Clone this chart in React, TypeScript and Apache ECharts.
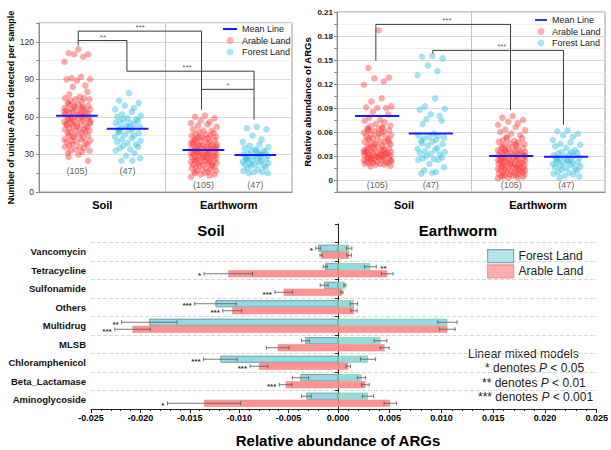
import React, { useEffect, useRef } from 'react';
import * as echarts from 'echarts';

const FONT = 'Arial, "Liberation Sans", Helvetica, sans-serif';

// ---------- top panels ----------
const groupCategories = ['Soil', 'Earthworm'];
const groupCenters = [1.1, 1.9, 3.1, 3.92]; // soil-arable, soil-forest, earthworm-arable, earthworm-forest
const jitterPattern = [0.1, -0.6, 0.8, -0.2, 0.45, -0.9, 0.3, -0.4, 0.95, -0.75, 0.0, 0.6, -0.3, 0.75, -0.55, 0.2, -0.85, 0.5, -0.1, 0.9, -0.45, 0.35, -0.65];
const jitterSpread = 0.22;

const countSoilArable = [114, 111, 110, 110, 108, 104, 92, 91, 90, 90, 89, 85, 84, 80, 78, 76, 75, 75, 74, 74, 73, 72, 71, 70, 70,
  69, 69, 68, 67, 67, 66, 66, 65, 65, 64, 64, 63, 63, 62, 62, 61, 61, 60, 60, 60,
  59, 59, 58, 58, 57, 57, 56, 56, 55, 55, 54, 54, 53, 53, 52, 51, 51, 50, 50,
  49, 49, 48, 47, 47, 46, 45, 45, 44, 43, 42, 42, 41, 41, 40, 40,
  39, 38, 38, 37, 36, 36, 35, 34, 33, 33, 32, 31, 30, 28, 25,
  68, 66, 64, 62, 58, 56, 54, 52, 48, 44];
const countSoilForest = [79, 73, 71, 69, 67, 66, 64, 62, 61, 60, 59, 58, 58, 57, 56, 55, 55, 54, 53, 52, 51, 50, 50, 49, 48,
  47, 46, 45, 44, 43, 42, 41, 40, 39, 38, 37, 36, 35, 34, 33, 31, 29, 27, 25, 25, 48, 52];
const countEarthArable = [61, 60, 59, 57, 56, 55, 54, 53, 52, 50, 49, 49, 48, 47, 46, 46, 45, 45, 44, 44,
  43, 43, 42, 42, 41, 41, 40, 40, 39, 39, 38, 38, 38, 37, 37, 37, 36, 36, 36, 35,
  35, 35, 34, 34, 34, 33, 33, 33, 32, 32, 32, 31, 31, 31, 30, 30, 30, 29, 29, 29,
  28, 28, 28, 27, 27, 27, 26, 26, 26, 25, 25, 25, 24, 24, 24, 23, 23, 23, 22, 22,
  21, 21, 20, 20, 19, 19, 18, 18, 17, 17, 16, 16, 15, 15, 14, 14, 13, 12, 30, 33, 36, 40, 28, 22, 44];
const countEarthForest = [52, 51, 50, 45, 42, 40, 38, 37, 36, 35, 34, 33, 33, 32, 31, 31, 30, 30, 29, 29,
  28, 28, 27, 27, 26, 26, 25, 25, 24, 24, 23, 23, 22, 22, 21, 21, 20, 19, 18, 17, 16, 16, 15, 15, 30, 27, 33];
const countMeans = [61, 50.5, 33.5, 29.5];
const countLabelY = [17, 17, 5.8, 5.8];

const abundSoilArable = [0.187, 0.140, 0.128, 0.127, 0.123, 0.119, 0.102, 0.098, 0.092, 0.091,
  0.090, 0.090, 0.085, 0.082, 0.078, 0.075, 0.074, 0.072, 0.070, 0.068,
  0.067, 0.066, 0.065, 0.064, 0.063, 0.062, 0.061, 0.060, 0.059, 0.058,
  0.057, 0.056, 0.055, 0.054, 0.053, 0.052, 0.051, 0.050, 0.049, 0.048,
  0.047, 0.046, 0.045, 0.044, 0.043, 0.042, 0.041, 0.040, 0.040, 0.039,
  0.038, 0.037, 0.036, 0.036, 0.035, 0.035, 0.034, 0.034, 0.033, 0.033,
  0.032, 0.032, 0.031, 0.031, 0.030, 0.030, 0.029, 0.029, 0.028, 0.028,
  0.027, 0.027, 0.026, 0.026, 0.025, 0.025, 0.024, 0.024, 0.023, 0.023,
  0.022, 0.022, 0.021, 0.021, 0.020, 0.020, 0.019, 0.019, 0.018, 0.017,
  0.065, 0.062, 0.058, 0.052, 0.048, 0.045, 0.038, 0.034, 0.031, 0.027,
  0.024, 0.036, 0.029, 0.033, 0.041];
const abundSoilForest = [0.155, 0.154, 0.152, 0.143, 0.136, 0.131, 0.102, 0.092, 0.089, 0.088,
  0.082, 0.080, 0.076, 0.074, 0.070, 0.058, 0.056, 0.055, 0.054, 0.053,
  0.052, 0.050, 0.049, 0.048, 0.046, 0.045, 0.043, 0.040, 0.039, 0.038,
  0.036, 0.035, 0.034, 0.033, 0.032, 0.030, 0.028, 0.027, 0.026, 0.025,
  0.025, 0.020, 0.016, 0.012, 0.010, 0.008, 0.009];
const abundEarthArable = [0.080, 0.078, 0.075, 0.073, 0.071, 0.069, 0.066, 0.063, 0.062, 0.060,
  0.058, 0.056, 0.054, 0.052, 0.050, 0.049, 0.048, 0.047, 0.046, 0.045,
  0.044, 0.043, 0.042, 0.041, 0.040, 0.040, 0.039, 0.038, 0.037, 0.036,
  0.036, 0.035, 0.035, 0.034, 0.034, 0.033, 0.033, 0.032, 0.032, 0.031,
  0.031, 0.030, 0.030, 0.029, 0.029, 0.028, 0.028, 0.027, 0.027, 0.026,
  0.026, 0.025, 0.025, 0.024, 0.024, 0.023, 0.023, 0.022, 0.022, 0.021,
  0.021, 0.020, 0.020, 0.019, 0.019, 0.018, 0.018, 0.017, 0.017, 0.016,
  0.016, 0.015, 0.015, 0.014, 0.014, 0.013, 0.013, 0.012, 0.012, 0.011,
  0.011, 0.010, 0.010, 0.009, 0.009, 0.008, 0.008, 0.007, 0.007, 0.006,
  0.006, 0.005, 0.005, 0.004, 0.004, 0.003, 0.003, 0.002, 0.045, 0.038,
  0.030, 0.025, 0.020, 0.015, 0.052];
const abundEarthForest = [0.062, 0.061, 0.058, 0.056, 0.054, 0.050, 0.047, 0.045, 0.044, 0.042,
  0.040, 0.037, 0.035, 0.034, 0.033, 0.032, 0.031, 0.030, 0.029, 0.028,
  0.027, 0.026, 0.025, 0.024, 0.023, 0.022, 0.022, 0.021, 0.020, 0.019,
  0.018, 0.017, 0.016, 0.015, 0.014, 0.013, 0.012, 0.010, 0.009, 0.008,
  0.007, 0.005, 0.004, 0.003, 0.035, 0.028, 0.024];
const abundMeans = [0.080, 0.058, 0.030, 0.029];
const abundLabelY = [-0.0067, -0.0067, -0.0067, -0.0067];

const sampleSizes = ['(105)', '(47)', '(105)', '(47)'];

const countBrackets = [
  [[1.12, 117], [1.12, 128.5], [3.07, 128.5], [3.07, 82]],
  [[1.12, 121], [1.89, 121], [1.89, 96.5]],
  [[1.89, 96.5], [3.9, 96.5], [3.9, 82]],
  [[3.07, 65.8], [3.07, 82], [3.9, 82], [3.9, 57.8]],
];
const countStars = [[1.51, 121, '**'], [2.1, 128.5, '***'], [2.84, 96.5, '***'], [3.49, 82, '*']];
const abundBrackets = [
  [[1.08, 0.149], [1.08, 0.1945], [3.09, 0.1945], [3.09, 0.0875]],
  [[1.93, 0.158], [1.93, 0.162], [3.88, 0.162], [3.88, 0.069]],
];
const abundStars = [[2.14, 0.1945, '***'], [2.96, 0.162, '***']];

// ---------- bottom panel ----------
const argClasses = ['Vancomycin', 'Tetracycline', 'Sulfonamide', 'Others', 'Multidrug', 'MLSB', 'Chloramphenicol', 'Beta_Lactamase', 'Aminoglycoside'];
const soilForest = [-0.0020, -0.0013, -0.0014, -0.0124, -0.0191, -0.0033, -0.0119, -0.0038, -0.0032];
const soilForestErr = [0.00025, 0.0002, 0.0004, 0.0021, 0.0028, 0.0004, 0.0017, 0.00083, 0.00049];
const soilForestSig = ['*', '', '', '***', '**', '', '***', '', ''];
const soilArable = [-0.0017, -0.0111, -0.0055, -0.0107, -0.0208, -0.0061, -0.0080, -0.0053, -0.01356];
const soilArableErr = [0.00012, 0.00245, 0.00088, 0.00096, 0.0018, 0.00115, 0.0009, 0.00064, 0.0037];
const soilArableSig = ['', '*', '***', '***', '***', '', '***', '***', '*'];
const earthForest = [0.00108, 0.00313, 0.00067, 0.00153, 0.01057, 0.0041, 0.0029, 0.00227, 0.0029];
const earthForestErr = [0.00026, 0.00057, 0.0001, 0.00035, 0.00093, 0.00062, 0.00073, 0.00041, 0.00054];
const earthForestSig = ['', '**', '', '', '', '', '', '', ''];
const earthArable = [0.00108, 0.00476, 0.00038, 0.00155, 0.01057, 0.0045, 0.00099, 0.00265, 0.00505];
const earthArableErr = [0.00022, 0.00056, 0.0001, 0.0003, 0.00075, 0.00043, 0.00022, 0.00037, 0.0006];
const earthArableSig = ['', '', '', '', '', '', '', '', ''];

const RED = 'rgba(255,60,60,0.55)';
const CYAN = 'rgba(45,190,220,0.55)';
const BLUE = '#1a1aff';
const BAR_GAP = 0.24;

function jittered(values: number[], center: number) {
  return values.map((v, i) => [center + jitterPattern[i % jitterPattern.length] * jitterSpread, v]);
}

function topPanelSeries(xi: number, yi: number, vals: number[][], means: number[], labelY: number[], brackets: number[][][], stars: any[]) {
  const s: any[] = [];
  s.push({
    type: 'scatter', name: 'Arable Land', xAxisIndex: xi, yAxisIndex: yi, symbolSize: 6.5, z: 2,
    itemStyle: { color: RED },
    data: jittered(vals[0], groupCenters[0]).concat(jittered(vals[2], groupCenters[2])),
    markLine: {
      silent: true, symbol: 'none', label: { show: false }, animation: false,
      lineStyle: { color: '#c4c4c4', type: 'solid', width: 1 },
      data: [{ xAxis: 2.5 }],
    },
  });
  s.push({
    type: 'scatter', name: 'Forest Land', xAxisIndex: xi, yAxisIndex: yi, symbolSize: 6.5, z: 2,
    itemStyle: { color: CYAN },
    data: jittered(vals[1], groupCenters[1]).concat(jittered(vals[3], groupCenters[3])),
  });
  s.push({
    type: 'custom', name: 'Mean Line', xAxisIndex: xi, yAxisIndex: yi, z: 4,
    itemStyle: { color: BLUE },
    data: groupCenters.map((c, i) => [c, means[i]]),
    renderItem: (params: any, api: any) => {
      const c = api.value(0), m = api.value(1);
      const a = api.coord([c - 0.33, m]);
      const b = api.coord([c + 0.33, m]);
      return { type: 'line', shape: { x1: a[0], y1: a[1], x2: b[0], y2: b[1] }, style: { stroke: BLUE, lineWidth: 2 } };
    },
  });
  brackets.forEach((br, k) => {
    s.push({
      type: 'line', name: 'bracket' + xi + '_' + k, xAxisIndex: xi, yAxisIndex: yi, z: 5, silent: true,
      symbol: 'none', lineStyle: { color: '#3a3a3a', width: 1 }, data: br,
    });
  });
  s.push({
    type: 'scatter', name: 'stars' + xi, xAxisIndex: xi, yAxisIndex: yi, symbolSize: 1, silent: true, z: 6,
    itemStyle: { color: 'transparent' },
    label: { show: true, position: 'top', distance: -1, fontSize: 8, color: '#333', fontFamily: FONT },
    data: stars.map((st) => ({ value: [st[0], st[1]], label: { formatter: st[2] } })),
  });
  s.push({
    type: 'scatter', name: 'n' + xi, xAxisIndex: xi, yAxisIndex: yi, symbolSize: 1, silent: true, z: 6,
    itemStyle: { color: 'transparent' },
    label: { show: true, position: 'inside', fontSize: 9, color: '#333', fontFamily: FONT },
    data: groupCenters.map((c, i) => ({ value: [c, labelY[i]], label: { formatter: sampleSizes[i] } })),
  });
  return s;
}

function errorSeries(name: string, xi: number, yi: number, vals: number[], errs: number[], sigs: string[], top: boolean, side: 'left' | 'right') {
  return {
    type: 'custom', name, xAxisIndex: xi, yAxisIndex: yi, z: 5, silent: true,
    data: vals.map((v, i) => [v, i, errs[i]]),
    renderItem: (params: any, api: any) => {
      const v = api.value(0), i = api.value(1), e = api.value(2);
      const p = api.coord([v, i]);
      const band = api.size([0, 1])[1];
      const bh = (band * (1 - BAR_GAP)) / 2;
      const y = p[1] + (top ? -bh / 2 : bh / 2);
      const xa = api.coord([v - e, i])[0];
      const xb = api.coord([v + e, i])[0];
      const st = { stroke: '#555', lineWidth: 0.8 };
      const children: any[] = [
        { type: 'line', shape: { x1: xa, y1: y, x2: xb, y2: y }, style: st },
        { type: 'line', shape: { x1: xa, y1: y - 2, x2: xa, y2: y + 2 }, style: st },
        { type: 'line', shape: { x1: xb, y1: y - 2, x2: xb, y2: y + 2 }, style: st },
      ];
      const sig = sigs[params.dataIndex];
      if (sig) {
        children.push({
          type: 'text', x: side === 'left' ? xa - 3 : xb + 4, y: y + 2,
          style: { text: sig, fontSize: 8, fontWeight: 'bold', fontFamily: FONT, fill: '#333',
            align: side === 'left' ? 'right' : 'left', verticalAlign: 'middle',
            textAlign: side === 'left' ? 'right' : 'left', textVerticalAlign: 'middle' },
        });
      }
      return { type: 'group', children };
    },
  };
}

function topXAxes(gi: number) {
  return [
    { type: 'value', gridIndex: gi, min: 0.5, max: 4.5, show: false },
    {
      type: 'category', gridIndex: gi, position: 'bottom', data: ['a', 'b', 'c', 'd'], boundaryGap: true,
      axisLine: { lineStyle: { color: '#8c8c8c' } },
      axisTick: { alignWithLabel: true, length: 3, lineStyle: { color: '#8c8c8c' } },
      axisLabel: { show: false }, splitLine: { show: false },
    },
    {
      type: 'category', gridIndex: gi, position: 'bottom', data: groupCategories,
      axisLine: { show: false }, axisTick: { show: false }, splitLine: { show: false },
      axisLabel: { fontSize: 11, fontWeight: 'bold', color: '#000', margin: 7, fontFamily: FONT },
    },
  ];
}

const barXAxisBase = {
  interval: 0.005,
  axisLine: { show: true, lineStyle: { color: '#222' } },
  axisTick: { show: true, length: 4, lineStyle: { color: '#222' } },
  minorTick: { show: true, splitNumber: 5, length: 2, lineStyle: { color: '#222' } },
  splitLine: { show: false },
  axisLabel: { fontSize: 9, fontWeight: 'bold', color: '#000', margin: 4, fontFamily: FONT, formatter: (v: number) => v.toFixed(3) },
};

const barYAxisBase = {
  type: 'category', inverse: true, data: argClasses,
  axisLine: { show: false }, axisTick: { show: false },
  splitLine: { show: true, interval: 0, lineStyle: { type: 'dashed', color: '#d6d6d6' } },
};

export default function App() {
  const ref = useRef<HTMLDivElement>(null);
  useEffect(() => {
    document.body.style.margin = '0';
    if (!ref.current) return;
    const chart = echarts.init(ref.current, null, { renderer: 'svg' });

    const series: any[] = [];
    series.push(...topPanelSeries(0, 0, [countSoilArable, countSoilForest, countEarthArable, countEarthForest], countMeans, countLabelY, countBrackets, countStars));
    series.push(...topPanelSeries(3, 1, [abundSoilArable, abundSoilForest, abundEarthArable, abundEarthForest], abundMeans, abundLabelY, abundBrackets, abundStars));

    const barCommon = { type: 'bar', barGap: '0%', barCategoryGap: (BAR_GAP * 100) + '%', silent: true, z: 2 };
    series.push({ ...barCommon, name: 'Forest Land', xAxisIndex: 6, yAxisIndex: 2, data: soilForest,
      itemStyle: { color: '#94dae6', borderColor: '#5f8f96', borderWidth: 0.8 } });
    series.push({ ...barCommon, name: 'Arable Land', xAxisIndex: 6, yAxisIndex: 2, data: soilArable,
      itemStyle: { color: '#ff9393', borderColor: '#f58686', borderWidth: 0.6 } });
    series.push({ ...barCommon, name: 'Forest Land', xAxisIndex: 7, yAxisIndex: 3, data: earthForest,
      itemStyle: { color: '#94dae6', borderColor: '#86d38a', borderWidth: 0.8 } });
    series.push({ ...barCommon, name: 'Arable Land', xAxisIndex: 7, yAxisIndex: 3, data: earthArable,
      itemStyle: { color: '#ff9393', borderColor: '#f58686', borderWidth: 0.6 } });
    series.push(errorSeries('errSF', 6, 2, soilForest, soilForestErr, soilForestSig, true, 'left'));
    series.push(errorSeries('errSA', 6, 2, soilArable, soilArableErr, soilArableSig, false, 'left'));
    series.push(errorSeries('errEF', 7, 3, earthForest, earthForestErr, earthForestSig, true, 'right'));
    series.push(errorSeries('errEA', 7, 3, earthArable, earthArableErr, earthArableSig, false, 'right'));

    const scatterLegend = (left: number, top: number, w: number) => ({
      orient: 'vertical', left, top, itemWidth: w, itemHeight: 7, itemGap: 2.5, padding: 0,
      textStyle: { fontSize: 9, color: '#222', lineHeight: 9, fontFamily: FONT },
      selectedMode: false,
      data: [
        { name: 'Mean Line', icon: 'path://M0 0H20V3H0Z', itemStyle: { color: BLUE } },
        { name: 'Arable Land', icon: 'circle', itemStyle: { color: 'rgba(255,60,60,0.5)' } },
        { name: 'Forest Land', icon: 'circle', itemStyle: { color: 'rgba(45,190,220,0.5)' } },
      ],
    });

    const option: any = {
      animation: false,
      textStyle: { fontFamily: FONT },
      grid: [
        { left: 39, top: 23, width: 253, height: 169, show: true, borderColor: '#9a9a9a', borderWidth: 1, backgroundColor: 'transparent' },
        { left: 337, top: 12, width: 268, height: 180, show: true, borderColor: '#9a9a9a', borderWidth: 1, backgroundColor: 'transparent' },
        { left: 91, top: 242.5, width: 247, height: 166.5 },
        { left: 338, top: 242.5, width: 261, height: 166.5 },
        { left: 338, top: 224, width: 261, height: 185 },
      ],
      xAxis: [
        ...topXAxes(0),
        ...topXAxes(1),
        { type: 'value', gridIndex: 2, min: -0.025, max: 0, ...barXAxisBase },
        { type: 'value', gridIndex: 3, min: 0, max: 0.025, ...barXAxisBase, axisLabel: { ...barXAxisBase.axisLabel, showMinLabel: false } },
        { type: 'value', gridIndex: 4, min: 0, max: 1, show: false },
      ],
      yAxis: [
        {
          type: 'value', gridIndex: 0, min: 0, max: 135, interval: 15,
          axisLine: { show: true, lineStyle: { color: '#8c8c8c' } },
          axisTick: { show: true, length: 3, lineStyle: { color: '#8c8c8c' } },
          axisLabel: { fontSize: 8.5, color: '#333', margin: 5, formatter: (v: number) => (Math.round(v) % 30 === 0 ? String(Math.round(v)) : '') },
          splitLine: { show: true, lineStyle: { color: ['#dadada', '#efefef'], width: 1 } },
          name: 'Number of unique ARGs detected per sample', nameLocation: 'middle', nameGap: 22,
          nameTextStyle: { fontSize: 9, fontWeight: 'bold', color: '#000' },
        },
        {
          type: 'value', gridIndex: 1, min: -0.015, max: 0.21, interval: 0.015,
          axisLine: { show: true, lineStyle: { color: '#8c8c8c' } },
          axisTick: { show: true, length: 3, lineStyle: { color: '#8c8c8c' } },
          axisLabel: {
            fontSize: 8, fontWeight: 'bold', color: '#222', margin: 4,
            formatter: (v: number) => {
              const k = Math.round(v / 0.015);
              if (k < 0 || k % 2 !== 0) return '';
              return k === 0 ? '0' : (k * 0.015).toFixed(2);
            },
          },
          splitLine: { show: true, lineStyle: { color: ['#efefef', '#dadada'], width: 1 } },
          name: 'Relative abundance of ARGs', nameLocation: 'middle', nameGap: 25,
          nameTextStyle: { fontSize: 9.5, fontWeight: 'bold', color: '#000' },
        },
        { ...barYAxisBase, gridIndex: 2, axisLabel: { interval: 0, fontSize: 9.5, fontWeight: 'bold', color: '#111', margin: 5, fontFamily: FONT } },
        { ...barYAxisBase, gridIndex: 3, axisLabel: { show: false } },
        {
          type: 'category', gridIndex: 4, inverse: true, data: [''].concat(argClasses),
          axisLine: { show: true, lineStyle: { color: '#222' } },
          axisTick: { show: true, interval: 0, length: 3, lineStyle: { color: '#222' } },
          axisLabel: { show: false }, splitLine: { show: false },
        },
      ],
      legend: [
        scatterLegend(223, 24.5, 14),
        scatterLegend(535, 15.5, 12),
        {
          orient: 'vertical', left: 487, top: 249, itemWidth: 26, itemHeight: 13, itemGap: 1, padding: 0,
          selectedMode: false,
          textStyle: { fontSize: 12, color: '#222', lineHeight: 13, fontFamily: FONT },
          data: [
            { name: 'Forest Land', icon: 'rect', itemStyle: { color: '#a3deea', borderColor: '#5f97a0', borderWidth: 1.2 } },
            { name: 'Arable Land', icon: 'rect', itemStyle: { color: '#ff9a9a', borderColor: '#ff8080', borderWidth: 1.2 } },
          ],
        },
      ],
      graphic: [
        { type: 'text', x: 211, y: 230, style: { text: 'Soil', fontSize: 15, fontWeight: 'bold', fontFamily: FONT, fill: '#000', align: 'center', verticalAlign: 'middle', textAlign: 'center', textVerticalAlign: 'middle' } },
        { type: 'text', x: 458, y: 230, style: { text: 'Earthworm', fontSize: 15, fontWeight: 'bold', fontFamily: FONT, fill: '#000', align: 'center', verticalAlign: 'middle', textAlign: 'center', textVerticalAlign: 'middle' } },
        { type: 'text', x: 338, y: 440, style: { text: 'Relative abundance of ARGs', fontSize: 15, fontWeight: 'bold', fontFamily: FONT, fill: '#000', align: 'center', verticalAlign: 'middle', textAlign: 'center', textVerticalAlign: 'middle' } },
        { type: 'text', x: 468, y: 354, style: { text: 'Linear mixed models', fontSize: 12, fontFamily: FONT, fill: '#222', align: 'left', verticalAlign: 'middle', textAlign: 'left', textVerticalAlign: 'middle' } },
        { type: 'text', x: 485, y: 368, style: { text: '{a|* denotes }{b|P}{a| < 0.05}', fontSize: 12, fontFamily: FONT, fill: '#222', align: 'left', verticalAlign: 'middle', textAlign: 'left', textVerticalAlign: 'middle', rich: { a: { fontSize: 12, fontFamily: FONT, fill: '#222' }, b: { fontSize: 12, fontFamily: FONT, fontStyle: 'italic', fill: '#222' } } } },
        { type: 'text', x: 482, y: 383, style: { text: '{a|** denotes }{b|P}{a| < 0.01}', fontSize: 12, fontFamily: FONT, fill: '#222', align: 'left', verticalAlign: 'middle', textAlign: 'left', textVerticalAlign: 'middle', rich: { a: { fontSize: 12, fontFamily: FONT, fill: '#222' }, b: { fontSize: 12, fontFamily: FONT, fontStyle: 'italic', fill: '#222' } } } },
        { type: 'text', x: 478, y: 397, style: { text: '{a|*** denotes }{b|P}{a| < 0.001}', fontSize: 12, fontFamily: FONT, fill: '#222', align: 'left', verticalAlign: 'middle', textAlign: 'left', textVerticalAlign: 'middle', rich: { a: { fontSize: 12, fontFamily: FONT, fill: '#222' }, b: { fontSize: 12, fontFamily: FONT, fontStyle: 'italic', fill: '#222' } } } },
      ],
      series,
    };
    chart.setOption(option);
    return () => chart.dispose();
  }, []);
  return <div ref={ref} style={{ width: 611, height: 450 }} />;
}
